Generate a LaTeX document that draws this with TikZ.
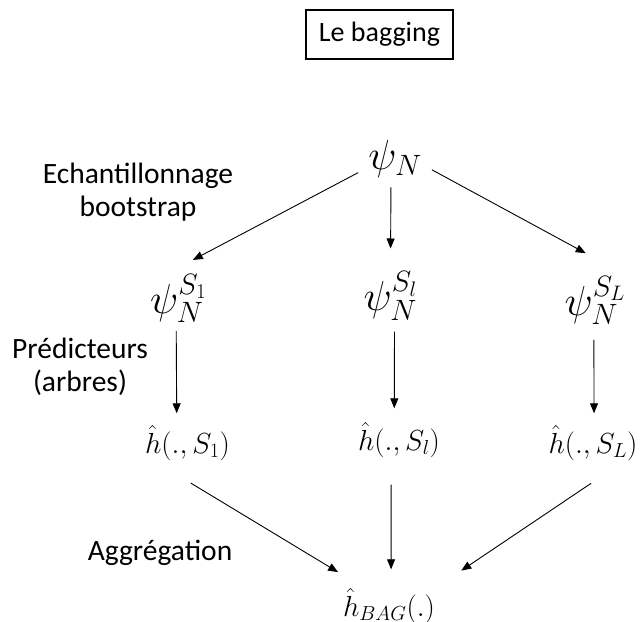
\RequirePackage{fix-cm}
\documentclass[tikz,border=0pt]{standalone}
\usepackage{amsmath}
\usepackage{fontspec}
\setmainfont{Carlito}
\usetikzlibrary{arrows.meta}

\begin{document}
\begin{tikzpicture}
            [every node/.style={inner sep=0pt},
             psi/.style={inner sep=8pt, font=\fontsize{42}{50}\selectfont},
             hat/.style={inner sep=12pt, font=\fontsize{29}{34}\selectfont},
             lbl/.style={align=center, font=\fontsize{29.5}{33}\selectfont},
             arr/.style={line width=0.9pt, -{Triangle[length=10pt, width=8pt]}, color=black}]
                \clip (0pt, 0pt) rectangle (642pt, -621pt);
                \node (0) [draw, line width=1.2pt, minimum width=147pt, minimum height=49pt, font=\fontsize{28}{34}\selectfont] at (379.5pt, -34.5pt) {Le bagging};
                \node (1) [psi, inner sep=10pt] at (395pt, -158.5pt) {$\psi_N$};
                \node (2) [psi] at (178.5pt, -298.5pt) {$\psi_N^{S_1}$};
                \node (3) [psi] at (390.5pt, -296pt) {$\psi_N^{S_l}$};
                \node (4) [psi] at (595pt, -300.5pt) {$\psi_N^{S_L}$};
                \node (5) [hat] at (187.5pt, -443pt) {$\hat{h}(.,S_1)$};
                \node (6) [hat] at (399pt, -440pt) {$\hat{h}(.,S_l)$};
                \node (7) [hat] at (593pt, -443pt) {$\hat{h}(.,S_L)$};
                \node (8) [hat] at (389pt, -606pt) {$\hat{h}_{BAG}(.)$};
                \node (9) [lbl] at (138pt, -192pt) {Echantillonnage\\bootstrap};
                \node (10) [lbl] at (80pt, -367pt) {Prédicteurs\\(arbres)};
                \node (11) [lbl, anchor=base] at (160pt, -560pt) {Aggrégation};
                \draw [arr, shorten >=13pt] (1.201) to (2.85);
                \draw [arr, shorten >=15pt] (1.-98) to (3.north);
                \draw [arr, shorten >=31pt] (1.-17) to (4.61);
                \draw [arr] (2.-94) to (5.110);
                \draw [arr, shorten <=3pt, shorten >=2pt] (3.-83) to (6.99);
                \draw [arr, shorten <=7pt] (4.-92) to (7.88);
                \draw [arr, shorten <=20pt, shorten >=8pt] (5.-115) to (8.146);
                \draw [arr, shorten <=15pt, shorten >=7pt] (6.-105) to (8.86);
                \draw [arr, shorten <=19pt, shorten >=17pt] (7.-65) to (8.24);
            \end{tikzpicture}
\end{document}
